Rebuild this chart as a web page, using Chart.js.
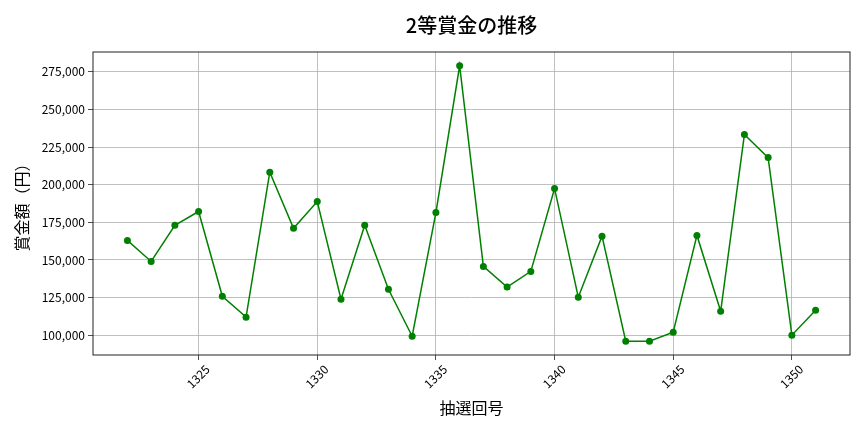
<!DOCTYPE html>
<html><head><meta charset="utf-8">
<script src="https://cdn.jsdelivr.net/npm/chart.js@4.4.1/dist/chart.umd.min.js"></script>
<style>html,body{margin:0;padding:0;background:#fff}#wrap{width:864px;height:432px}</style>
</head><body><div id="wrap"><canvas id="c" width="864" height="432"></canvas></div>
<script>
const rounds = [1322,1323,1324,1325,1326,1327,1328,1329,1330,1331,1332,1333,1334,1335,1336,1337,1338,1339,1340,1341,1342,1343,1344,1345,1346,1347,1348,1349,1350,1351];
const prizes = [163000,149000,173000,182200,125900,112000,208300,171000,188800,123900,173000,130500,99300,181500,279000,145700,132000,142400,197500,125200,165800,96000,96000,102000,166300,115900,233300,218000,100000,116600];
const xTicks = [1325,1330,1335,1340,1345,1350];
const yTicks = [100000,125000,150000,175000,200000,225000,250000,275000];
const titleText = '2等賞金の推移';
const xLabel = '抽選回号';
const yLabel = '賞金額（円）';

const FONT = "'Noto Sans CJK JP', 'Noto Sans', sans-serif";
const points = rounds.map((r,i)=>({x:r,y:prizes[i]}));
const xmin = Math.min(...rounds), xmax = Math.max(...rounds);
const ymin = Math.min(...prizes), ymax = Math.max(...prizes);
const xm = (xmax-xmin)*0.05, ym = (ymax-ymin)*0.05;

const framePlugin = {
  id:'frame',
  afterDraw(chart){
    const {ctx, chartArea:a} = chart;
    ctx.save();
    ctx.strokeStyle='#222'; ctx.lineWidth=1;
    ctx.strokeRect(a.left, a.top, a.right-a.left, a.bottom-a.top);
    ctx.fillStyle='#000';
    ctx.font = "500 20px " + FONT;
    ctx.textAlign='center'; ctx.textBaseline='middle';
    ctx.fillText(titleText, (a.left+a.right)/2, 25);
    ctx.restore();
  }
};

new Chart(document.getElementById('c'), {
  type:'line',
  data:{datasets:[{data:points, borderColor:'#008000', backgroundColor:'#008000', borderWidth:1.5, pointRadius:3.5, pointHoverRadius:3.5, pointBorderWidth:0, tension:0}]},
  options:{
    responsive:false, animation:false, devicePixelRatio:1,
    layout:{padding:{top:52,right:14,left:0,bottom:0}},
    plugins:{legend:{display:false}, tooltip:{enabled:false}, title:{display:false}},
    scales:{
      x:{type:'linear', min:xmin-xm, max:xmax+xm,
        afterBuildTicks(s){ s.ticks = xTicks.map(v=>({value:v})); },
        afterFit(s){ s.height = 77; },
        grid:{color:'#b0b0b0', lineWidth:0.8, tickColor:'#222', tickLength:5, drawTicks:true},
        border:{display:false},
        ticks:{minRotation:45, maxRotation:45, color:'#000', font:{family:FONT, size:12}, padding:2, labelOffset:9, callback:v=>String(v)},
        title:{display:true, text:xLabel, color:'#000', font:{family:FONT, size:16}, padding:{top:0,bottom:14}}
      },
      y:{type:'linear', min:ymin-ym, max:ymax+ym,
        afterBuildTicks(s){ s.ticks = yTicks.map(v=>({value:v})); },
        afterFit(s){ s.width = 93; },
        grid:{color:'#b0b0b0', lineWidth:0.8, tickColor:'#222', tickLength:5, drawTicks:true},
        border:{display:false},
        ticks:{color:'#000', font:{family:FONT, size:12}, padding:3, callback:v=>v.toLocaleString('en-US')},
        title:{display:true, text:yLabel, color:'#000', font:{family:FONT, size:16}, padding:{top:12,bottom:0}}
      }
    }
  },
  plugins:[framePlugin]
});
</script></body></html>
